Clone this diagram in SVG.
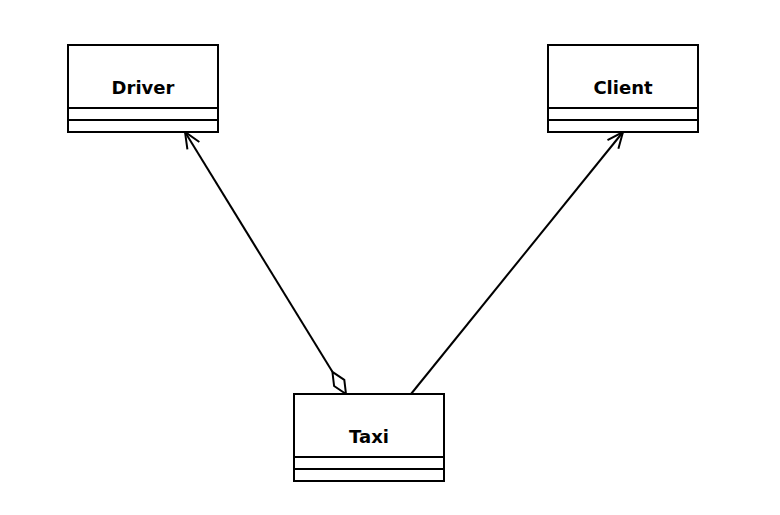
<svg xmlns="http://www.w3.org/2000/svg" width="780" height="515" viewBox="0 0 780 515">
<style>
.box{fill:#fff;stroke:#000;stroke-width:2}
.div{stroke:#000;stroke-width:2}
.lbl{font-family:"DejaVu Sans",Verdana,sans-serif;font-weight:bold;font-size:18px;text-anchor:middle;fill:#000}
.edge{stroke:#000;stroke-width:2;fill:none}
</style>
<defs>
<marker id="open" viewBox="0 0 18 16" refX="17" refY="8" markerWidth="18" markerHeight="16" markerUnits="userSpaceOnUse" orient="auto">
<path d="M1,1 L17,8 L1,15" fill="none" stroke="#000" stroke-width="2"/>
</marker>
</defs>
<rect width="780" height="515" fill="#fff"/>
<g id="connectors">
<path class="edge" d="M332.4,371.8 L185,132" marker-end="url(#open)"/>
<path class="edge" d="M346,394 L344.3,379.8 L332.4,371.8 L334.1,386 Z" fill="#fff"/>
<path class="edge" d="M411,394 L623,132" marker-end="url(#open)"/>
</g>
<g id="Driver">
<rect class="box" x="68" y="45" width="150" height="87"/>
<line class="div" x1="68" y1="108" x2="218" y2="108"/>
<line class="div" x1="68" y1="120" x2="218" y2="120"/>
<text class="lbl" x="143" y="94">Driver</text>
</g>
<g id="Client">
<rect class="box" x="548" y="45" width="150" height="87"/>
<line class="div" x1="548" y1="108" x2="698" y2="108"/>
<line class="div" x1="548" y1="120" x2="698" y2="120"/>
<text class="lbl" x="623" y="94">Client</text>
</g>
<g id="Taxi">
<rect class="box" x="294" y="394" width="150" height="87"/>
<line class="div" x1="294" y1="457" x2="444" y2="457"/>
<line class="div" x1="294" y1="469" x2="444" y2="469"/>
<text class="lbl" x="369" y="443">Taxi</text>
</g>
</svg>
